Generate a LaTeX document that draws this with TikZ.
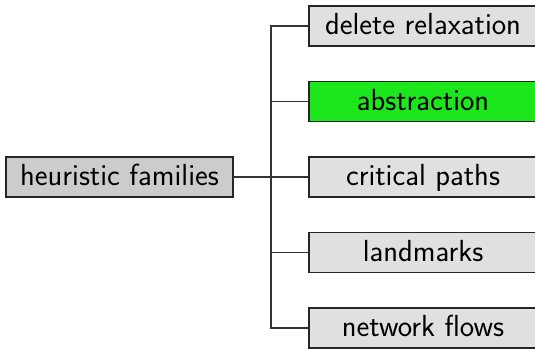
\documentclass[tikz,border=0pt]{standalone}
\definecolor{rootgray}{RGB}{204,204,204}
\definecolor{childgray}{RGB}{224,224,224}
\definecolor{absgreen}{RGB}{28,230,28}
\tikzset{
  box/.style={draw=black!85, line width=1.2pt, inner sep=0pt, minimum height=40pt,
    text height=22pt, text depth=5pt, font=\fontsize{30.5}{36}\sffamily, anchor=center},
  rootbox/.style={box, fill=rootgray, minimum width=227pt},
  childbox/.style={box, fill=childgray, minimum width=228pt},
  conn/.style={draw=black!80, line width=1.2pt}
}
\begin{document}
\begin{tikzpicture}[x=1pt,y=-1pt]
\useasboundingbox (0,0) rectangle (535,348);
\node[rootbox] (root) at (119.5,177) {heuristic families};
\node[childbox] (c1) at (423,26) {delete relaxation};
\node[childbox, fill=absgreen] (c2) at (423,101.5) {abstraction};
\node[childbox] (c3) at (423,177) {critical paths};
\node[childbox] (c4) at (423,252.5) {landmarks};
\node[childbox] (c5) at (423,328) {network flows};
\coordinate (trunk) at (271,177);
\foreach \c in {c1,c2,c3,c4,c5}
  \draw[conn] (root.east) -- (trunk) |- (\c.west);
\end{tikzpicture}
\end{document}
